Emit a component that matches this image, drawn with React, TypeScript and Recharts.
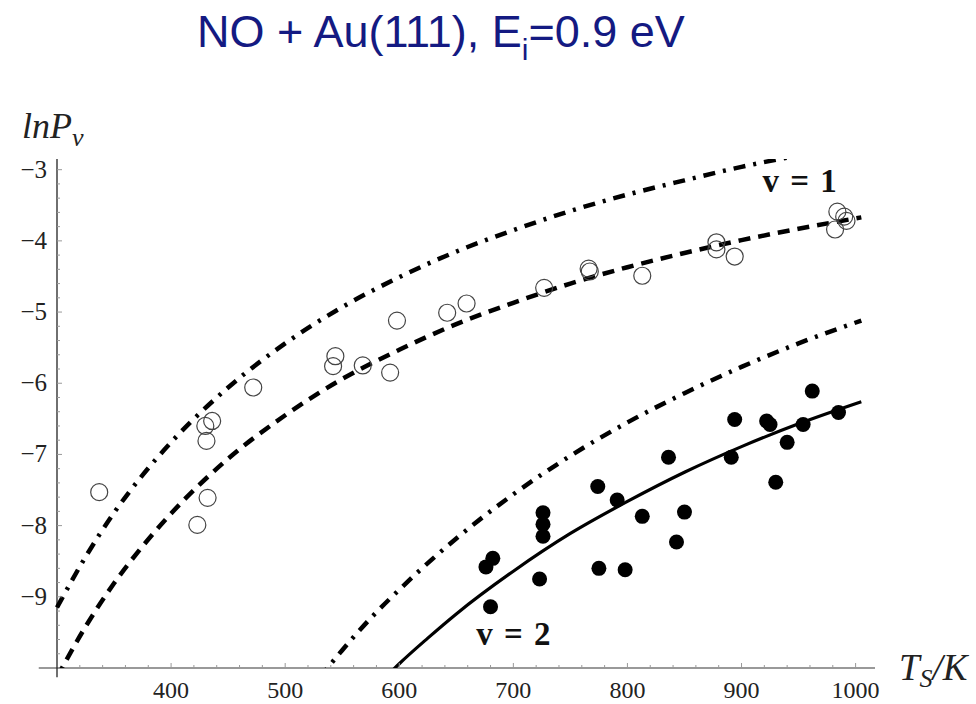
import React from 'react';
import { ComposedChart, Line, Scatter, XAxis, YAxis, ReferenceLine, ReferenceDot } from 'recharts';

// model curves
const v1Temps = [300, 325, 350, 375, 400, 450, 500, 550, 600, 650, 700, 750, 800, 850, 900, 950, 1005];
const v1Upper = [-9.15, -8.44, -7.82, -7.29, -6.83, -6.06, -5.44, -4.93, -4.51, -4.15, -3.85, -3.58, -3.35, -3.15, -2.96, -2.8, -2.64];
const v1Fit = [-10.13, -9.42, -8.81, -8.29, -7.83, -7.06, -6.45, -5.94, -5.53, -5.17, -4.87, -4.6, -4.37, -4.17, -3.99, -3.83, -3.67];

const v2UpperTemps = [530, 550, 575, 600, 650, 700, 750, 800, 850, 900, 950, 1005];
const v2Upper = [-10.14, -9.75, -9.3, -8.9, -8.18, -7.56, -7.02, -6.55, -6.14, -5.77, -5.44, -5.12];
const v2FitTemps = [585, 600, 625, 650, 700, 750, 800, 850, 900, 950, 1005];
const v2Fit = [-10.18, -9.94, -9.58, -9.24, -8.64, -8.11, -7.66, -7.25, -6.89, -6.57, -6.26];

// measured points
const v1PointT = [337, 423, 432, 431, 430, 436, 472, 544, 542, 568, 592, 598, 642, 659, 727, 766, 767, 813, 878, 878, 894, 984, 990, 992, 982];
const v1PointLnP = [-7.53, -7.99, -7.61, -6.81, -6.6, -6.53, -6.06, -5.62, -5.76, -5.75, -5.85, -5.12, -5.01, -4.88, -4.66, -4.39, -4.43, -4.49, -4.02, -4.12, -4.22, -3.59, -3.66, -3.72, -3.84];
const v2PointT = [676, 682, 680, 723, 726, 726, 726, 774, 775, 791, 798, 813, 836, 843, 850, 891, 894, 922, 925, 930, 940, 954, 962, 985];
const v2PointLnP = [-8.58, -8.46, -9.14, -8.75, -8.15, -7.98, -7.82, -7.45, -8.6, -7.64, -8.62, -7.87, -7.04, -8.23, -7.81, -7.04, -6.51, -6.53, -6.58, -7.39, -6.83, -6.58, -6.11, -6.41];

const xMajor = [400, 500, 600, 700, 800, 900, 1000];
const yMajor = [-9, -8, -7, -6, -5, -4, -3];

const zip = (ts: number[], vs: number[]) => ts.map((T, i) => ({ T, lnP: vs[i] }));

const xTicks: number[] = [];
for (let t = 320; t <= 1000; t += 20) xTicks.push(t);
const yTicks: number[] = [];
for (let k = 0; k <= 34; k++) yTicks.push(Math.round((-9.8 + k * 0.2) * 10) / 10);

const SERIF = '"Liberation Serif", "DejaVu Serif", serif';

const XTick = (props: any) => {
  const { x, y, payload } = props;
  const major = xMajor.includes(payload.value);
  return (
    <g>
      <line x1={x} x2={x} y1={y} y2={y - (major ? 5 : 3)} stroke="#999" strokeWidth={1} />
      {major && (
        <text x={x} y={y + 30} textAnchor="middle" style={{ fontFamily: SERIF }} fontSize={24} fill="#222">
          {payload.value}
        </text>
      )}
    </g>
  );
};

const YTick = (props: any) => {
  const { x, y, payload } = props;
  const major = yMajor.includes(payload.value);
  return (
    <g>
      <line x1={x} x2={x + (major ? 5 : 3)} y1={y} y2={y} stroke="#999" strokeWidth={1} />
      {major && (
        <text x={x - 10} y={y + 8} textAnchor="end" style={{ fontFamily: SERIF }} fontSize={25} fill="#222">
          {'\u2212' + Math.abs(payload.value)}
        </text>
      )}
    </g>
  );
};

const OpenDot = (p: any) => <circle cx={p.cx} cy={p.cy} r={8.5} fill="none" stroke="#444" strokeWidth={1.2} />;
const FullDot = (p: any) => <circle cx={p.cx} cy={p.cy} r={7.5} fill="#000" />;

const curveLabel = (txt: string) => (p: any) => (
  <text x={p.cx} y={p.cy} textAnchor="middle" style={{ fontFamily: SERIF }} fontWeight="bold" fontSize={33} wordSpacing={3} fill="#111">
    {txt}
  </text>
);

export default function App() {
  return (
    <div style={{ position: 'absolute', left: 0, top: 0, width: 976, height: 704, background: '#fff' }}>
      <ComposedChart width={976} height={704} margin={{ top: 159, right: 101, bottom: 35, left: 56 }}>
        <XAxis
          type="number"
          dataKey="T"
          domain={[300, 1017]}
          ticks={xTicks}
          interval={0}
          axisLine={false}
          tickLine={false}
          tickSize={0}
          tickMargin={0}
          height={1}
          tick={<XTick />}
        />
        <YAxis
          type="number"
          dataKey="lnP"
          domain={[-10, -2.85]}
          allowDataOverflow
          ticks={yTicks}
          interval={0}
          axisLine={false}
          tickLine={false}
          tickSize={0}
          tickMargin={0}
          width={1}
          tick={<YTick />}
        />
        <ReferenceLine segment={[{ x: 284, y: -10 }, { x: 1017, y: -10 }]} stroke="#777" strokeWidth={1.3} ifOverflow="visible" />
        <ReferenceLine segment={[{ x: 300, y: -10.13 }, { x: 300, y: -2.85 }]} stroke="#222" strokeWidth={1.3} ifOverflow="visible" />
        <Line data={zip(v1Temps, v1Upper)} dataKey="lnP" type="monotone" stroke="#000" strokeWidth={4.5} strokeDasharray="12 8 3 8" dot={false} isAnimationActive={false} />
        <Line data={zip(v1Temps, v1Fit)} dataKey="lnP" type="monotone" stroke="#000" strokeWidth={4.5} strokeDasharray="12 8" dot={false} isAnimationActive={false} />
        <Line data={zip(v2UpperTemps, v2Upper)} dataKey="lnP" type="monotone" stroke="#000" strokeWidth={4.5} strokeDasharray="12 8 3 8" dot={false} isAnimationActive={false} />
        <Line data={zip(v2FitTemps, v2Fit)} dataKey="lnP" type="monotone" stroke="#000" strokeWidth={3.2} dot={false} isAnimationActive={false} />
        <Scatter data={zip(v1PointT, v1PointLnP)} dataKey="lnP" shape={<OpenDot />} isAnimationActive={false} />
        <Scatter data={zip(v2PointT, v2PointLnP)} dataKey="lnP" shape={<FullDot />} isAnimationActive={false} />
        <ReferenceDot x={951} y={-3.32} r={0} shape={curveLabel('v = 1')} />
        <ReferenceDot x={700} y={-9.68} r={0} shape={curveLabel('v = 2')} />
      </ComposedChart>
      <svg width={976} height={704} style={{ position: 'absolute', left: 0, top: 0, pointerEvents: 'none' }}>
        <text x={441} y={47} textAnchor="middle" fontFamily='"Liberation Sans", Arial, sans-serif' fontSize={45} fill="#141a82">
          NO + Au(111), E
          <tspan fontSize={30} dy={13}>i</tspan>
          <tspan dy={-13}>=0.9 eV</tspan>
        </text>
        <text x={22} y={138} fontFamily={SERIF} fontStyle="italic" fontSize={36} fill="#222">
          lnP
          <tspan fontSize={26} dy={8}>v</tspan>
        </text>
        <text x={899} y={680} fontFamily={SERIF} fontStyle="italic" fontSize={37} fill="#222">
          T
          <tspan fontSize={26} dy={7}>S</tspan>
          <tspan dy={-7}>/K</tspan>
        </text>
      </svg>
    </div>
  );
}
